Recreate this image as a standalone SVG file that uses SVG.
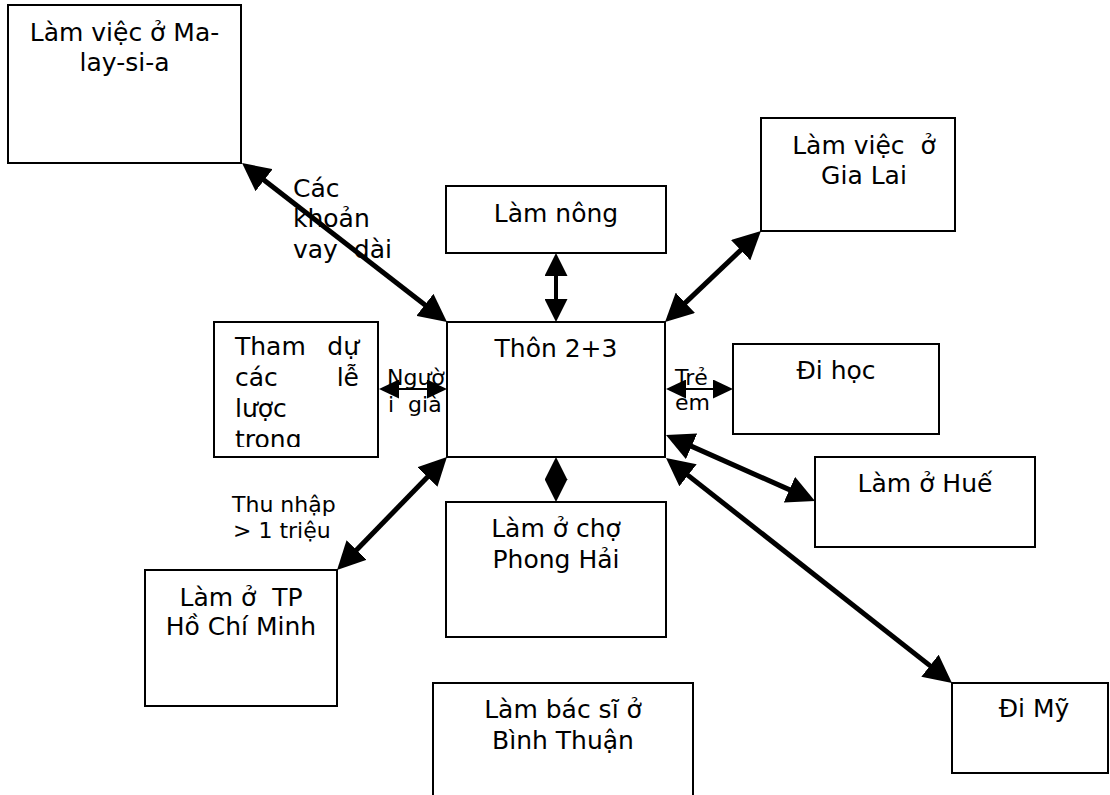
<svg xmlns="http://www.w3.org/2000/svg" width="1110" height="795" viewBox="0 0 1110 795">
  <style>
    .box { fill: #ffffff; stroke: #000000; stroke-width: 2; }
    .t { font-family: "DejaVu Sans", Verdana, "Liberation Sans", sans-serif; font-size: 25px; fill: #000000; }
    .c { text-anchor: middle; }
    .e { text-anchor: end; }
    .lbl { font-family: "DejaVu Sans", Verdana, "Liberation Sans", sans-serif; font-size: 22px; fill: #000000; }
    .big { stroke: #000000; stroke-width: 5; fill: none; marker-start: url(#headBig); marker-end: url(#headBig); }
    .mid { stroke: #000000; stroke-width: 4; fill: none; marker-start: url(#headMid); marker-end: url(#headMid); }
    .thin { stroke: #000000; stroke-width: 2; fill: none; marker-start: url(#headSmall); marker-end: url(#headSmall); }
  </style>
  <defs>
    <marker id="headBig" markerUnits="userSpaceOnUse" markerWidth="28" markerHeight="28" refX="6" refY="14" orient="auto-start-reverse">
      <path d="M0,0 L28,14 L0,28 z" fill="#000000"/>
    </marker>
    <marker id="headMid" markerUnits="userSpaceOnUse" markerWidth="23" markerHeight="23" refX="5" refY="11.5" orient="auto-start-reverse">
      <path d="M0,0 L23,11.5 L0,23 z" fill="#000000"/>
    </marker>
    <marker id="headSmall" markerUnits="userSpaceOnUse" markerWidth="20" markerHeight="19" refX="4" refY="9.5" orient="auto-start-reverse">
      <path d="M0,0 L20,9.5 L0,19 z" fill="#000000"/>
    </marker>
    <clipPath id="clipThamDu">
      <rect x="214" y="322" width="164" height="125"/>
    </clipPath>
  </defs>

  <rect width="1110" height="795" fill="#ffffff"/>

  <!-- nodes -->
  <g id="malaysia">
    <rect class="box" x="8" y="5" width="233" height="158"/>
    <text class="t c" x="124.5" y="41">Làm việc ở Ma-</text>
    <text class="t c" x="124.5" y="71">lay-si-a</text>
  </g>

  <g id="gia-lai">
    <rect class="box" x="761" y="118" width="194" height="113"/>
    <text class="t c" x="864" y="154" xml:space="preserve">Làm việc  ở</text>
    <text class="t c" x="864" y="184">Gia Lai</text>
  </g>

  <g id="lam-nong">
    <rect class="box" x="446" y="186" width="220" height="67"/>
    <text class="t c" x="556" y="222">Làm nông</text>
  </g>

  <g id="thon">
    <rect class="box" x="447" y="322" width="218" height="135"/>
    <text class="t c" x="556" y="357">Thôn 2+3</text>
  </g>

  <g id="tham-du">
    <rect class="box" x="214" y="322" width="164" height="135"/>
    <g clip-path="url(#clipThamDu)">
      <text class="t" x="235" y="355">Tham</text>
      <text class="t e" x="359" y="355">dự</text>
      <text class="t" x="235" y="386">các</text>
      <text class="t e" x="359" y="386">lễ</text>
      <text class="t" x="235" y="417">lược</text>
      <text class="t" x="235" y="448">trong</text>
    </g>
  </g>

  <g id="di-hoc">
    <rect class="box" x="733" y="344" width="206" height="90"/>
    <text class="t c" x="836" y="379">Đi học</text>
  </g>

  <g id="hue">
    <rect class="box" x="815" y="457" width="220" height="90"/>
    <text class="t c" x="925" y="492">Làm ở Huế</text>
  </g>

  <g id="phong-hai">
    <rect class="box" x="446" y="502" width="220" height="135"/>
    <text class="t c" x="556" y="537">Làm ở chợ</text>
    <text class="t c" x="556" y="568">Phong Hải</text>
  </g>

  <g id="ho-chi-minh">
    <rect class="box" x="145" y="570" width="192" height="136"/>
    <text class="t c" x="241" y="606" xml:space="preserve">Làm ở  TP</text>
    <text class="t c" x="241" y="635">Hồ Chí Minh</text>
  </g>

  <g id="binh-thuan">
    <rect class="box" x="433" y="683" width="260" height="120"/>
    <text class="t c" x="563" y="718">Làm bác sĩ ở</text>
    <text class="t c" x="563" y="749">Bình Thuận</text>
  </g>

  <g id="di-my">
    <rect class="box" x="952" y="683" width="156" height="90"/>
    <text class="t c" x="1034" y="717">Đi Mỹ</text>
  </g>

  <!-- connector labels -->
  <g id="labels">
    <text class="t" x="293" y="197">Các</text>
    <text class="t" x="293" y="227">khoản</text>
    <text class="t" x="293" y="258" xml:space="preserve">vay  dài</text>
    <text class="lbl" x="232" y="512">Thu nhập</text>
    <text class="lbl" x="233" y="538">&gt; 1 triệu</text>
    <text class="lbl" x="387" y="385">Ngườ</text>
    <text class="lbl" x="388" y="412" xml:space="preserve">i  già</text>
    <text class="lbl" x="675" y="385">Trẻ</text>
    <text class="lbl" x="675" y="410">em</text>
  </g>

  <!-- connectors -->
  <g id="connectors">
    <line class="big" x1="259.4" y1="176.5" x2="429.6" y2="308.5"/>
    <line class="big" x1="745.0" y1="246.1" x2="681.0" y2="306.9"/>
    <line class="big" x1="686.1" y1="443.9" x2="794.9" y2="492.1"/>
    <line class="big" x1="683.3" y1="471.6" x2="934.7" y2="669.4"/>
    <line class="big" x1="431.6" y1="472.8" x2="352.4" y2="554.2"/>
    <line class="mid" x1="556" y1="271" x2="556" y2="304"/>
    <line class="mid" x1="556" y1="475" x2="556" y2="484"/>
    <line class="thin" x1="395" y1="389" x2="431" y2="389"/>
    <line class="thin" x1="682" y1="389" x2="717" y2="389"/>
  </g>
</svg>
